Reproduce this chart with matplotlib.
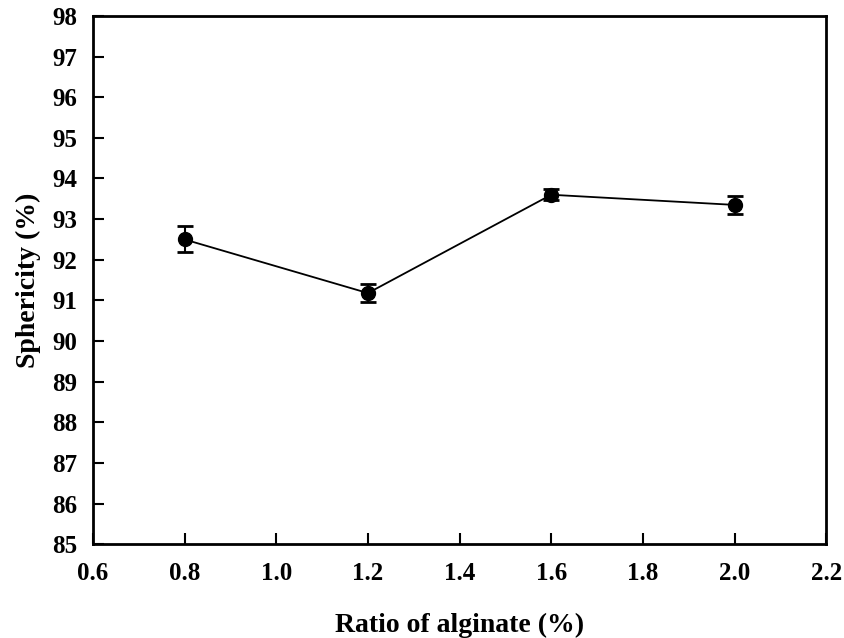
import matplotlib
matplotlib.use("Agg")
import matplotlib.pyplot as plt

ratio = [0.8, 1.2, 1.6, 2.0]
sphericity = [92.5, 91.18, 93.6, 93.35]
errors = [0.32, 0.23, 0.14, 0.23]
x_ticks = [0.6, 0.8, 1.0, 1.2, 1.4, 1.6, 1.8, 2.0, 2.2]
y_ticks = list(range(85, 99))

plt.rcParams['font.family'] = ['Liberation Serif', 'DejaVu Serif']
plt.rcParams['font.weight'] = 'bold'

fig = plt.figure(figsize=(8.44, 6.38), dpi=100)
ax = fig.add_axes([0.110, 0.147, 0.869, 0.828])

ax.errorbar(ratio, sphericity, yerr=errors, color='black', marker='o',
            markersize=10, linewidth=1.3, elinewidth=1.5, capsize=5.5,
            capthick=2)

ax.set_xlim(0.6, 2.2)
ax.set_ylim(85, 98)
ax.set_xticks(x_ticks)
ax.set_xticklabels([f"{v:.1f}" for v in x_ticks])
ax.set_yticks(y_ticks)
ax.set_yticklabels([str(v) for v in y_ticks])
ax.tick_params(direction='in', length=8, width=1.5, labelsize=18,
               top=False, right=False)
ax.tick_params(axis='x', pad=13)
ax.tick_params(axis='y', pad=11)
for lbl in ax.get_xticklabels() + ax.get_yticklabels():
    lbl.set_fontweight('bold')
for s in ax.spines.values():
    s.set_linewidth(2)

ax.set_xlabel('Ratio of alginate (%)', fontsize=20, fontweight='bold', labelpad=20)
ax.set_ylabel('Sphericity (%)', fontsize=20, fontweight='bold', labelpad=8)

fig.savefig('out.png', dpi=100)
